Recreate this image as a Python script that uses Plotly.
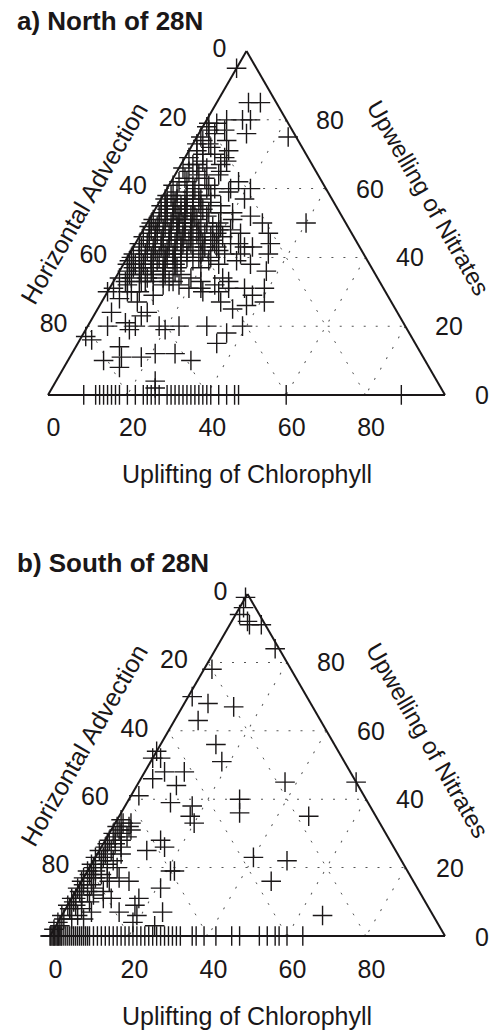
import plotly.graph_objects as go

# ---------------- data (percent contributions) ----------------
# Each pair is (Upwelling of Nitrates, Uplifting of Chlorophyll);
# Horizontal Advection is the remainder to 100 (filled in by the ternary trace).
north_points = [
    (95, 0), (85, 8), (80, 9), (80, 5), (78, 1), (76, 12), (74, 8), (74, 2), (73, 4),
    (79, 1), (79, 3), (73, 1), (72, 5), (69, 10), (67, 3), (67, 4), (67, 10), (65, 3),
    (65, 5), (64, 6), (64, 11), (62, 2), (62, 4), (60, 7), (60, 10), (60, 12), (59, 16),
    (59, 3), (57, 1), (57, 6), (57, 10), (56, 13), (55, 16), (55, 2), (55, 4),
    (77, 2), (76, 4), (75, 1), (71, 2), (70, 4), (70, 7), (69, 1), (66, 1), (66, 7), (63, 3),
    (63, 8), (61, 1), (61, 6), (58, 1), (58, 12),
    (85, 11), (80, 11), (77, 6), (75, 23), (71, 10), (68, 5), (68, 11), (65, 11), (62, 17),
    (61, 10), (60, 16), (60, 21), (57, 21), (53, 20), (52, 25), (50, 29), (50, 40), (49, 19),
    (47, 25), (47, 32), (44, 34), (43, 30), (41, 35), (38, 32), (36, 37), (33, 29), (31, 34),
    (31, 39), (30, 28), (29, 37),
    (44, 17), (43, 21), (41, 24), (39, 28), (39, 21), (44, 24), (41, 28), (41, 18), (38, 24), (43, 28),
    (55, 11), (53, 14), (49, 14), (40, 21), (37, 20), (34, 19), (33, 15), (34, 27), (31, 30),
    (31, 23), (39, 1), (31, 1), (30, 8), (34, 4), (36, 8),
    (57, 4), (56, 7), (55, 6), (54, 3), (54, 8), (53, 5), (53, 10), (52, 2), (52, 7), (51, 4),
    (51, 9), (51, 12), (50, 1), (50, 6), (50, 11), (49, 3), (49, 8), (49, 10), (48, 5), (48, 12),
    (48, 2), (47, 7), (47, 9), (47, 14), (46, 4), (46, 11), (46, 1), (45, 6), (45, 8), (45, 13),
    (45, 16), (44, 3), (44, 10), (44, 12), (43, 5), (43, 7), (43, 15), (42, 2), (42, 9), (42, 11),
    (42, 18), (41, 4), (41, 6), (41, 13), (40, 8), (40, 10), (40, 15), (40, 1), (39, 5), (39, 12),
    (39, 17), (38, 3), (38, 7), (38, 10), (37, 14), (37, 5), (36, 2), (36, 11), (35, 6), (35, 9),
    (35, 16), (34, 1), (34, 12), (33, 7), (33, 10), (32, 4), (32, 13), (46, 18), (47, 19), (44, 20),
    (50, 15), (52, 14), (49, 17), (53, 17), (48, 22), (55, 9), (56, 2), (58, 6), (58, 9), (59, 7),
    (58, 2), (57, 8), (56, 4), (56, 10), (55, 1), (55, 7), (54, 5), (54, 12), (53, 2), (53, 7),
    (53, 8), (52, 4), (52, 10), (52, 11), (51, 1), (51, 6), (51, 7), (50, 3), (50, 8), (50, 9),
    (49, 1), (49, 5), (49, 12), (48, 3), (48, 7), (48, 9), (48, 14), (47, 2), (47, 4), (47, 11),
    (46, 6), (46, 8), (46, 13), (46, 15), (45, 3), (45, 10), (45, 11), (44, 1), (44, 5), (44, 7),
    (44, 14), (43, 2), (43, 9), (43, 12), (42, 4), (42, 6), (42, 14), (41, 1), (41, 9), (41, 11),
    (40, 3), (40, 6), (40, 12), (39, 8), (39, 10), (39, 14), (38, 1), (38, 5), (38, 13), (37, 3),
    (37, 8), (37, 11), (36, 5), (36, 14), (35, 3), (35, 12), (34, 8), (33, 3), (46, 21), (45, 19),
    (43, 18), (42, 22), (47, 16), (50, 18), (51, 21), (48, 19), (44, 26), (40, 18),
    (30, 0), (28, 4), (30, 5), (30, 6), (33, 8), (29, 12), (27, 9), (24, 4), (24, 13), (23, 12),
    (20, 5), (21, 9), (19, 11), (20, 12), (20, 18), (19, 20), (20, 23), (20, 30), (18, 36), (17, 1),
    (16, 3), (15, 35), (14, 11), (10, 9), (11, 13), (11, 18), (12, 21), (12, 26), (10, 31), (8, 14),
    (4, 25), (2, 26),
    (20, 39), (25, 34), (26, 37), (27, 41), (27, 30), (30, 24), (33, 14), (32, 17), (31, 20),
    (33, 22), (32, 26),
    (0, 9), (0, 12), (0, 13), (0, 14), (0, 15), (0, 16), (0, 17), (0, 18), (0, 20), (0, 22),
    (0, 24), (0, 25), (0, 26), (0, 27), (0, 28), (0, 30), (0, 31), (0, 32), (0, 33), (0, 34),
    (0, 35), (0, 36), (0, 37), (0, 38), (0, 39), (0, 40), (0, 41), (0, 43), (0, 45), (0, 47),
    (0, 48), (0, 60), (0, 89),
]

south_points = [
    (99, 0), (96, 1), (94, 1), (92, 4), (91, 5), (91, 8), (84, 15), (78, 2), (70, 1), (68, 6),
    (67, 13), (63, 6), (56, 14), (51, 18), (54, 0), (52, 0), (48, 5), (48, 10), (45, 37),
    (45, 55), (40, 28), (36, 30), (35, 48), (23, 40), (22, 49), (16, 48), (6, 66),
    (52, 2), (46, 3), (44, 10), (41, 2), (39, 11), (38, 17), (35, 18), (33, 20), (33, 4),
    (31, 2), (31, 5), (29, 5), (28, 14), (26, 16), (25, 12), (27, 1), (25, 3), (26, 5), (24, 6),
    (25, 0), (23, 2), (21, 0), (21, 4), (20, 7), (19, 21), (19, 22), (19, 0), (17, 0), (17, 2),
    (17, 3), (17, 6), (16, 0), (17, 9), (16, 7), (16, 12), (14, 21),
    (11, 10), (7, 14), (9, 17), (11, 17), (6, 19), (7, 25), (3, 25), (4, 19), (7, 7), (8, 4),
    (8, 1), (11, 0), (5, 3),
    (34, 1), (33, 2), (32, 1), (32, 4), (30, 1), (30, 3), (29, 2), (28, 1), (28, 4), (27, 3),
    (26, 1), (24, 2), (23, 0), (22, 2), (22, 5), (20, 1), (20, 3), (19, 2), (18, 1), (18, 4),
    (15, 1), (14, 0), (13, 1), (13, 3), (12, 2), (11, 1), (10, 1), (10, 3), (9, 0), (9, 2),
    (8, 1), (6, 0), (5, 1), (4, 0), (3, 1), (2, 0), (12, 5), (14, 4), (15, 3), (13, 7),
    (10, 5), (11, 8), (6, 4), (5, 6),
    (0, 0), (0, 0.2), (0, 0.5), (0, 0.8), (0, 1), (0, 1.2), (0, 1.5), (0, 1.8), (0, 2), (0, 2.2),
    (0, 2.5), (0, 2.8), (0, 3), (0, 3.5), (0, 4), (0, 4.5), (0, 5), (0, 5.5), (0, 6), (0, 6.5),
    (0, 7), (0, 7.5), (0, 8), (0, 8.5), (0, 9), (0, 9.5), (0, 10), (0, 11), (0, 12), (0, 13),
    (0, 14), (0, 15), (0, 16), (0, 17), (0, 18), (0, 19), (0, 20), (0, 21), (0, 22), (0, 23),
    (0, 24), (0, 25), (0, 26), (0, 27), (0, 28), (0, 29), (0, 30), (0, 31), (0, 32), (0, 33),
    (0, 36), (0, 37), (0, 39), (0, 42), (0, 46), (0, 48), (0, 53), (0, 55), (0, 57), (0, 58),
    (0, 60), (0, 64),
]

north_nitrates = [p[0] for p in north_points]
north_chlorophyll = [p[1] for p in north_points]
south_nitrates = [p[0] for p in south_points]
south_chlorophyll = [p[1] for p in south_points]

tick_values = [20, 40, 60, 80, 100]
tick_labels = ["80", "60", "40", "20", "0"]
nitrate_label_values = [80, 60, 40, 20, 0]

panel_titles = ["a) North of 28N", "b) South of 28N"]
left_title = "Horizontal Advection"
right_title = "Upwelling of Nitrates"
bottom_title = "Uplifting of Chlorophyll"

# ---------------- styling ----------------
FONT = "Liberation Sans, Arial, Helvetica, sans-serif"
INK = "#1a1718"
W, H = 498, 1033


def axis_style(ticklen, show_labels=True):
    return dict(
        min=0,
        tickmode="array", tickvals=tick_values, ticktext=tick_labels,
        tickfont=dict(family=FONT, size=25, color=INK),
        showticklabels=show_labels,
        ticks="outside", ticklen=ticklen, tickcolor="rgba(0,0,0,0)",
        showline=True, linecolor=INK, linewidth=2,
        showgrid=True, gridcolor="#555555", gridwidth=1.3, griddash="2px,10px",
        title=dict(text=""),
        layer="below traces",
    )


# triangle geometry per panel: left x, right x, apex y, base y (pixels)
panels = [(48, 445, 51, 395), (50, 445, 593, 937)]


def ternary_layout(x0, x1, ytop, ybot):
    return dict(
        sum=100,
        bgcolor="white",
        domain=dict(x=[x0 / W, x1 / W], y=[1 - ybot / H, 1 - ytop / H]),
        aaxis=axis_style(16), baxis=axis_style(11), caxis=axis_style(6, show_labels=False),
    )


marker = dict(symbol="cross-thin", size=14, color=INK, line=dict(width=1.4, color=INK))

fig = go.Figure()
fig.add_trace(go.Scatterternary(
    a=north_nitrates, c=north_chlorophyll, mode="markers", marker=marker,
    subplot="ternary", cliponaxis=False, showlegend=False,
))
fig.add_trace(go.Scatterternary(
    a=south_nitrates, c=south_chlorophyll, mode="markers", marker=marker,
    subplot="ternary2", cliponaxis=False, showlegend=False,
))

fig.update_layout(
    width=W, height=H,
    margin=dict(l=0, r=0, t=0, b=0),
    paper_bgcolor="white",
    font=dict(family=FONT, color=INK),
    ternary=ternary_layout(*panels[0]),
    ternary2=ternary_layout(*panels[1]),
)

annotations = []
for i, (x0, x1, apex_y, base_y) in enumerate(panels):
    apex_x = (x0 + x1) / 2
    annotations.append(dict(
        text="<b>%s</b>" % panel_titles[i], x=15 / W, y=1 - (apex_y - 30) / H,
        xref="paper", yref="paper", xanchor="left", yanchor="middle",
        showarrow=False, font=dict(size=26, family=FONT, color=INK),
    ))
    annotations.append(dict(
        text=left_title, x=84 / W, y=1 - (apex_y + 152) / H, textangle=-60,
        xref="paper", yref="paper", xanchor="center", yanchor="middle",
        showarrow=False, font=dict(size=25, family=FONT, color=INK),
    ))
    annotations.append(dict(
        text=right_title, x=428 / W, y=1 - (apex_y + 147) / H, textangle=60,
        xref="paper", yref="paper", xanchor="center", yanchor="middle",
        showarrow=False, font=dict(size=24, family=FONT, color=INK),
    ))
    annotations.append(dict(
        text=bottom_title, x=247 / W, y=1 - (base_y + 79) / H,
        xref="paper", yref="paper", xanchor="center", yanchor="middle",
        showarrow=False, font=dict(size=25, family=FONT, color=INK),
    ))
    # nitrate scale labels, set horizontally to the right of the right edge
    for v in nitrate_label_values:
        frac = v / 100
        edge_x = x1 - frac * (x1 - apex_x)
        edge_y = base_y - frac * (base_y - apex_y)
        annotations.append(dict(
            text=str(v), x=(edge_x + 28) / W, y=1 - edge_y / H,
            xref="paper", yref="paper", xanchor="left", yanchor="middle",
            showarrow=False, font=dict(size=25, family=FONT, color=INK),
        ))
fig.update_layout(annotations=annotations)

fig.write_html("out.html")
